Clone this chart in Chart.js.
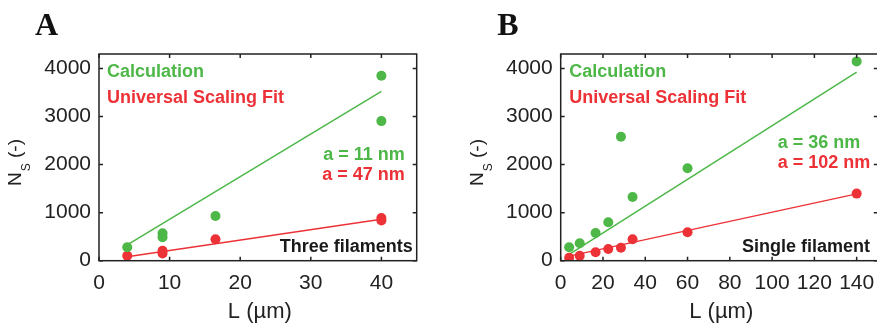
<!DOCTYPE html>
<html>
<head>
<meta charset="utf-8">
<script src="https://cdn.jsdelivr.net/npm/chart.js@4/dist/chart.umd.min.js"></script>
<style>
  html, body { margin: 0; padding: 0; background: #fff; overflow: hidden; width: 877px; height: 326px; }
  #wrap { position: relative; width: 877px; height: 326px; overflow: hidden; }
  canvas { position: absolute; top: 0; }
  #panelA { left: 0; width: 440px; height: 326px; }
  #panelB { left: 440px; width: 460px; height: 326px; }
</style>
</head>
<body>
<div id="wrap">
  <canvas id="panelA" width="440" height="326"></canvas>
  <canvas id="panelB" width="460" height="326"></canvas>
</div>
<script>
// ---- Panel A: three filaments ----
const lengthA = [4, 9, 9, 16.5, 40, 40];
const calcA = [279, 570, 490, 931, 3848, 2904];
const scalingA = [104, 205, 150, 446, 890, 835];
const fitLengthA = [4, 40];
const calcFitA = [327, 3521];
const scalingFitA = [83, 862];
const xTicksA = [0, 10, 20, 30, 40];

// ---- Panel B: single filament ----
const lengthB = [4, 9, 16.5, 22.5, 28.5, 34, 60, 140];
const calcB = [279, 362, 577, 800, 2577, 1327, 1925, 4146];
const scalingB = [63, 104, 175, 244, 271, 446, 592, 1396];
const fitLengthB = [4, 140];
const calcFitB = [130, 3924];
const scalingFitB = [95, 1390];
const xTicksB = [0, 20, 40, 60, 80, 100, 120, 140];

const yTicks = [0, 1000, 2000, 3000, 4000];

const GREEN = '#4db748';
const RED = '#ec3237';
const INK = '#222222';
const SANS = '"Liberation Sans", Arial, Helvetica, sans-serif';
const SERIF = '"Liberation Serif", "Times New Roman", serif';

const pts = (xs, ys) => xs.map((x, i) => ({ x, y: ys[i] }));

// Box frame, inward ticks on all four sides, axis titles and in-plot labels
const framePlugin = {
  id: 'frame',
  afterDraw(chart, args, o) {
    const { ctx, chartArea: a, scales } = chart;
    ctx.save();
    ctx.strokeStyle = INK;
    ctx.lineWidth = 1.5;
    ctx.strokeRect(a.left, a.top, a.right - a.left, a.bottom - a.top);
    const t = 4;
    ctx.beginPath();
    scales.x.ticks.forEach(tk => {
      const px = scales.x.getPixelForValue(tk.value);
      ctx.moveTo(px, a.bottom); ctx.lineTo(px, a.bottom - t);
      ctx.moveTo(px, a.top); ctx.lineTo(px, a.top + t);
    });
    scales.y.ticks.forEach(tk => {
      const py = scales.y.getPixelForValue(tk.value);
      ctx.moveTo(a.left, py); ctx.lineTo(a.left + t, py);
      ctx.moveTo(a.right, py); ctx.lineTo(a.right - t, py);
    });
    ctx.stroke();

    // panel letter
    ctx.fillStyle = '#111';
    ctx.font = 'bold 32px ' + SERIF;
    ctx.textAlign = 'left';
    ctx.textBaseline = 'alphabetic';
    ctx.fillText(o.letter, a.left - o.letterDx, 35);

    // x axis title
    ctx.fillStyle = INK;
    ctx.font = '22px ' + SANS;
    ctx.textAlign = 'center';
    ctx.fillText('L (\u00b5m)', (a.left + a.right) / 2 + 2, 318);

    // y axis title: N with subscript S, then (-)
    ctx.save();
    ctx.translate(a.left - 78, 186);
    ctx.rotate(-Math.PI / 2);
    ctx.textAlign = 'left';
    ctx.font = '19px ' + SANS;
    ctx.fillText('N', 0, 0);
    let w = ctx.measureText('N').width;
    ctx.font = '12px ' + SANS;
    ctx.fillText('S', w + 1, 9);
    w += 1 + ctx.measureText('S').width;
    ctx.font = '19px ' + SANS;
    ctx.fillText(' (-)', w, 0);
    ctx.restore();

    // in-plot labels
    ctx.font = 'bold 18px ' + SANS;
    ctx.textBaseline = 'middle';
    o.labels.forEach(l => {
      ctx.fillStyle = l.color;
      ctx.textAlign = l.align;
      const x = l.align === 'left' ? a.left + l.dx : a.right - l.dx;
      ctx.fillText(l.text, x, a.top + l.dy);
    });
    ctx.restore();
  }
};

function makePanel(canvasId, cfg) {
  const W = cfg.canvasWidth;
  return new Chart(document.getElementById(canvasId), {
    type: 'scatter',
    data: {
      datasets: [
        { data: pts(cfg.fitL, cfg.calcFit), type: 'line', showLine: true, borderColor: GREEN, borderWidth: 1.5, pointRadius: 0, order: 2 },
        { data: pts(cfg.fitL, cfg.scalFit), type: 'line', showLine: true, borderColor: RED, borderWidth: 1.5, pointRadius: 0, order: 2 },
        { data: pts(cfg.L, cfg.calc), backgroundColor: GREEN, pointRadius: 5, borderWidth: 0, order: 1 },
        { data: pts(cfg.L, cfg.scal), backgroundColor: RED, pointRadius: 5, borderWidth: 0, order: 1 }
      ]
    },
    options: {
      responsive: false,
      animation: false,
      devicePixelRatio: 1,
      layout: { padding: { left: 0, top: 54, right: W - cfg.plotRight, bottom: 0 } },
      plugins: {
        legend: { display: false },
        tooltip: { enabled: false },
        frame: { letter: cfg.letter, letterDx: cfg.letterDx, labels: cfg.labels }
      },
      scales: {
        x: {
          type: 'linear', min: 0, max: cfg.xMax,
          afterFit: s => { s.height = 326 - 260.7; },
          afterBuildTicks: s => { s.ticks = cfg.xTicks.map(v => ({ value: v })); },
          grid: { display: false, drawTicks: false },
          border: { display: false },
          ticks: { color: INK, font: { family: SANS, size: 21 }, padding: 10, maxRotation: 0, autoSkip: false,
                   callback: v => String(v) }
        },
        y: {
          type: 'linear', min: 0, max: 4300,
          afterFit: s => { s.width = cfg.plotLeft; },
          afterBuildTicks: s => { s.ticks = yTicks.map(v => ({ value: v })); },
          grid: { display: false, drawTicks: false },
          border: { display: false },
          ticks: { color: INK, font: { family: SANS, size: 21 }, padding: 8, callback: v => String(v) }
        }
      }
    },
    plugins: [framePlugin]
  });
}

makePanel('panelA', {
  canvasWidth: 440, plotLeft: 99, plotRight: 416.7, xMax: 45, xTicks: xTicksA,
  L: lengthA, calc: calcA, scal: scalingA, fitL: fitLengthA, calcFit: calcFitA, scalFit: scalingFitA,
  letter: 'A', letterDx: 64,
  labels: [
    { text: 'Calculation', color: GREEN, align: 'left', dx: 8, dy: 18 },
    { text: 'Universal Scaling Fit', color: RED, align: 'left', dx: 8, dy: 44 },
    { text: 'a = 11 nm', color: GREEN, align: 'right', dx: 12, dy: 101 },
    { text: 'a = 47 nm', color: RED, align: 'right', dx: 12, dy: 121 },
    { text: 'Three filaments', color: '#1a1a1a', align: 'right', dx: 4, dy: 192.7 }
  ]
});

makePanel('panelB', {
  canvasWidth: 460, plotLeft: 120.7, plotRight: 437.8, xMax: 150, xTicks: xTicksB,
  L: lengthB, calc: calcB, scal: scalingB, fitL: fitLengthB, calcFit: calcFitB, scalFit: scalingFitB,
  letter: 'B', letterDx: 63.4,
  labels: [
    { text: 'Calculation', color: GREEN, align: 'left', dx: 8.6, dy: 18 },
    { text: 'Universal Scaling Fit', color: RED, align: 'left', dx: 8.6, dy: 44 },
    { text: 'a = 36 nm', color: GREEN, align: 'left', dx: 217, dy: 88.7 },
    { text: 'a = 102 nm', color: RED, align: 'left', dx: 217, dy: 108.7 },
    { text: 'Single filament', color: '#1a1a1a', align: 'right', dx: 7.8, dy: 192.7 }
  ]
});
</script>
</body>
</html>
